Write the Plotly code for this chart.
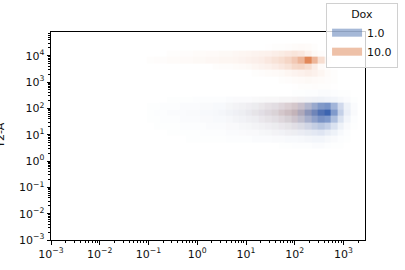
import numpy as np
import plotly.graph_objects as go

# ---------------- data ----------------
dox_levels = ["1.0", "10.0"]

# log10 bin layout of the 2-D histogram
x_log_start = -1.04
x_log_width = 0.135
n_x_bins = 32
y_log_start = 0.46
y_log_width = 0.25
n_y_bins = 16

# counts per cell (rows = y bins from bottom, cols = x bins from left)
dox1_counts = [
    [0]*20 + [1, 1, 2, 2, 2, 3, 3, 2, 1, 1, 0, 0],
    [0, 0, 0, 0, 0, 0, 1, 1, 1, 1, 1, 1, 2, 2, 2, 2, 3, 3, 3, 4, 4, 5, 5, 6, 7, 8, 8, 6, 4, 2, 1, 0],
    [0, 0, 0, 1, 1, 1, 1, 1, 2, 2, 2, 2, 3, 3, 3, 4, 4, 5, 6, 7, 8, 9, 10, 12, 14, 16, 18, 14, 10, 5, 2, 0],
    [0, 1, 1, 1, 1, 2, 2, 2, 2, 3, 3, 3, 4, 4, 5, 6, 7, 8, 9, 10, 12, 14, 17, 20, 25, 30, 35, 30, 20, 10, 4, 1],
    [1, 1, 2, 2, 2, 3, 3, 3, 4, 4, 5, 5, 6, 7, 8, 9, 10, 12, 14, 16, 18, 22, 28, 35, 45, 55, 65, 60, 40, 20, 8, 2],
    [1, 2, 2, 3, 3, 3, 4, 4, 5, 5, 6, 7, 8, 9, 10, 12, 14, 16, 18, 20, 24, 28, 35, 45, 60, 75, 90, 100, 60, 30, 12, 4],
    [1, 1, 2, 2, 2, 3, 3, 3, 4, 4, 5, 5, 6, 7, 8, 9, 10, 12, 14, 16, 18, 20, 24, 30, 40, 50, 60, 65, 45, 25, 10, 3],
    [0, 0, 0, 1, 1, 1, 1, 2, 2, 2, 2, 2, 3, 3, 3, 3, 3, 4, 4, 4, 5, 5, 6, 7, 8, 9, 10, 9, 8, 6, 3, 1],
    [0]*22 + [1, 1, 2, 2, 3, 3, 2, 1, 1, 0],
    [0]*32,
    [0]*32,
    [0]*32,
    [0]*32,
    [0]*32,
    [0]*32,
    [0]*32,
]

dox10_counts = [
    [0]*32,
    [0]*32,
    [0]*12 + [0, 0, 1, 1, 1, 2, 2, 3, 3, 4, 4, 3, 2, 1, 0] + [0]*5,
    [0]*12 + [1, 1, 2, 2, 3, 4, 5, 6, 7, 8, 9, 7, 5, 3, 1] + [0]*5,
    [0]*12 + [1, 2, 3, 4, 5, 7, 9, 11, 14, 16, 18, 15, 10, 5, 2] + [0]*5,
    [0]*12 + [2, 3, 4, 6, 8, 10, 13, 16, 20, 24, 26, 22, 15, 8, 3] + [0]*5,
    [0]*12 + [2, 3, 4, 5, 6, 8, 10, 12, 15, 18, 20, 18, 12, 6, 2] + [0]*5,
    [0]*12 + [0, 1, 1, 1, 2, 2, 3, 3, 4, 4, 5, 4, 3, 2, 1] + [0]*5,
    [0]*32,
    [0]*22 + [1, 2, 2, 3, 2, 2, 1] + [0]*3,
    [0]*20 + [2, 3, 4, 5, 6, 5, 4, 3, 2] + [0]*3,
    [0]*16 + [2, 3, 4, 5, 6, 8, 10, 12, 14, 12, 8, 4, 2] + [0]*3,
    [0]*10 + [2, 3, 3, 4, 5, 6, 8, 10, 12, 15, 18, 22, 28, 30, 25, 15, 5] + [2] + [0]*4,
    [2, 3, 3, 4, 4, 5, 5, 6, 6, 7, 7, 8, 8, 9, 10, 12, 13, 15, 18, 22, 25, 30, 38, 50, 85, 50, 25, 8, 3, 1, 0, 0],
    [0]*3 + [2, 2, 3, 3, 4, 4, 5, 5, 6, 6, 7, 8, 9, 10, 11, 12, 14, 16, 18, 20, 18, 12, 6, 3] + [0]*5,
    [0]*18 + [1, 2, 2, 3, 4, 5, 4, 2] + [0]*6,
]

x_tick_exponents = [-3, -2, -1, 0, 1, 2, 3]
y_tick_exponents = [-3, -2, -1, 0, 1, 2, 3, 4]

# ---------------- figure ----------------
x_edges = 10 ** (x_log_start + x_log_width * np.arange(n_x_bins + 1))
y_edges = 10 ** (y_log_start + y_log_width * np.arange(n_y_bins + 1))


def masked(m):
    a = np.array(m, dtype=float)
    a[a <= 0] = np.nan
    return a


def alpha_scale(rgb):
    r, g, b = rgb
    stops = [(0.0, 0.0), (0.05, 0.04), (0.15, 0.13), (0.3, 0.3),
             (0.6, 0.65), (1.0, 1.0)]
    return [[v, f"rgba({r},{g},{b},{a})"] for v, a in stops]


blue_dark = (60, 100, 175)
orange_dark = (222, 118, 66)

fig = go.Figure()
fig.add_trace(go.Heatmap(x=x_edges, y=y_edges, z=masked(dox1_counts),
                         zmin=0, zmax=100, colorscale=alpha_scale(blue_dark),
                         showscale=False, hoverinfo="skip"))
fig.add_trace(go.Heatmap(x=x_edges, y=y_edges, z=masked(dox10_counts),
                         zmin=0, zmax=100, colorscale=alpha_scale(orange_dark),
                         showscale=False, hoverinfo="skip"))

legend_colors = ["rgba(76,114,176,0.5)", "rgba(221,132,82,0.5)"]
for name, col in zip(dox_levels, legend_colors):
    fig.add_trace(go.Scatter(x=[None], y=[None], mode="lines", name=name,
                             line=dict(color=col, width=8), showlegend=True))


def sup(e):
    s = str(e).replace("-", "\u2212")
    return f"10<sup>{s}</sup>"


def minor_vals(lo, hi):
    return [m * 10.0 ** e for e in range(lo, hi + 1) for m in range(2, 10)]


font = dict(family="DejaVu Sans", size=11, color="#111111")
axis_common = dict(type="log", showgrid=False, zeroline=False,
                   showline=True, linecolor="black", linewidth=1, mirror=True,
                   ticks="outside", ticklen=3.5, tickwidth=0.8, tickcolor="black",
                   tickfont=font, automargin=False)

fig.update_xaxes(**axis_common, range=[-3, 3.44],
                 tickvals=[10.0 ** e for e in x_tick_exponents],
                 ticktext=[sup(e) for e in x_tick_exponents],
                 minor=dict(tickvals=minor_vals(-3, 3), ticks="outside",
                            ticklen=2, tickwidth=0.6, tickcolor="black"))
fig.update_yaxes(**axis_common, range=[-3, 4.9],
                 tickvals=[10.0 ** e for e in y_tick_exponents],
                 ticktext=[sup(e) for e in y_tick_exponents],
                 minor=dict(tickvals=minor_vals(-3, 4), ticks="outside",
                            ticklen=2, tickwidth=0.6, tickcolor="black"))

fig.add_annotation(text="Y2-A", xref="paper", yref="paper", x=-0.163, y=0.5,
                   textangle=-90, showarrow=False, xanchor="center",
                   yanchor="middle", font=font)

fig.update_layout(
    width=405, height=270,
    margin=dict(l=51, r=40, t=32, b=30, autoexpand=False),
    paper_bgcolor="white", plot_bgcolor="white",
    font=font,
    legend=dict(x=0.876, y=1.14, xanchor="left", yanchor="top",
                bgcolor="rgba(255,255,255,0.8)", bordercolor="#d0d0d0",
                borderwidth=1, font=font,
                title=dict(text="Dox", side="top center", font=font),
                tracegroupgap=0, itemwidth=30),
)

fig.write_html("out.html")
